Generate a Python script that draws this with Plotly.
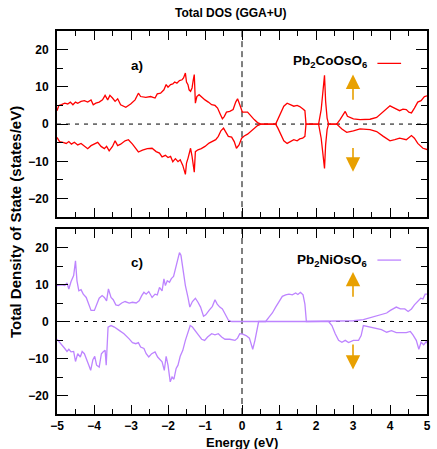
import plotly.graph_objects as go
from plotly.subplots import make_subplots

# ---------------- data ----------------
co_up_x = [-5.00,-4.95,-4.88,-4.79,-4.71,-4.64,-4.57,-4.50,-4.44,-4.35,-4.26,-4.17,-4.08,-4.02,-3.95,-3.86,-3.77,-3.70,-3.63,-3.57,-3.50,-3.43,-3.36,-3.28,-3.14,-3.01,-2.89,-2.80,-2.74,-2.60,-2.47,-2.35,-2.29,-2.20,-2.11,-2.05,-2.00,-1.93,-1.87,-1.82,-1.76,-1.69,-1.62,-1.58,-1.53,-1.50,-1.46,-1.43,-1.39,-1.35,-1.32,-1.29,-1.26,-1.22,-1.16,-1.09,-1.00,-0.91,-0.82,-0.73,-0.66,-0.59,-0.53,-0.48,-0.42,-0.33,-0.24,-0.17,-0.12,-0.06,0.01,0.15,0.24,0.33,0.42,0.51,0.91,0.97,1.05,1.13,1.22,1.31,1.40,1.49,1.56,1.64,1.70,1.73,2.07,2.14,2.18,2.23,2.26,2.30,2.34,2.56,2.65,2.72,2.79,2.85,3.01,3.19,3.46,3.64,3.77,3.91,4.00,4.08,4.17,4.26,4.35,4.44,4.51,4.58,4.66,4.75,4.84,4.93,5.02]
co_up_y = [3.6,5.0,5.2,5.6,5.4,5.9,5.2,5.9,5.6,6.1,6.3,5.9,6.5,5.2,5.6,5.9,6.5,7.7,6.5,7.7,7.0,6.1,6.8,5.2,4.5,5.4,6.5,8.3,7.4,7.2,7.4,7.0,8.1,8.3,9.2,10.6,9.9,10.6,10.8,11.3,11.0,11.7,11.9,12.4,13.7,11.3,10.6,9.2,8.8,9.7,11.7,13.3,5.6,7.4,7.9,7.2,6.5,5.9,5.2,5.0,4.3,2.7,1.4,2.0,3.2,3.4,3.9,5.9,6.8,5.2,3.2,3.2,2.1,1.2,0.4,0.0,0.0,1.2,3.0,4.8,5.6,5.2,4.8,5.0,4.7,4.1,3.6,0.0,0.0,3.9,8.8,13.1,6.1,1.6,0.0,0.0,1.2,2.3,3.4,2.1,1.4,1.2,1.3,1.8,3.0,4.3,4.9,4.5,4.1,3.6,4.0,3.9,3.2,3.0,4.3,5.9,6.3,7.4,7.6]

co_dn_x = [-5.00,-4.93,-4.84,-4.75,-4.68,-4.61,-4.53,-4.44,-4.35,-4.26,-4.17,-4.08,-3.99,-3.90,-3.81,-3.72,-3.66,-3.59,-3.50,-3.43,-3.36,-3.28,-3.16,-3.07,-2.96,-2.86,-2.80,-2.69,-2.56,-2.43,-2.32,-2.23,-2.16,-2.07,-2.00,-1.93,-1.87,-1.80,-1.73,-1.67,-1.60,-1.53,-1.50,-1.46,-1.43,-1.39,-1.35,-1.32,-1.29,-1.26,-1.19,-1.10,-1.00,-0.89,-0.80,-0.71,-0.64,-0.57,-0.50,-0.44,-0.37,-0.28,-0.21,-0.15,-0.08,-0.01,0.06,0.15,0.24,0.33,0.42,0.51,0.91,0.97,1.05,1.13,1.22,1.31,1.40,1.49,1.56,1.64,1.70,1.73,2.07,2.14,2.18,2.23,2.26,2.30,2.34,2.56,2.70,2.83,3.01,3.19,3.46,3.64,3.82,4.00,4.13,4.26,4.44,4.58,4.66,4.75,4.89,5.02]
co_dn_y = [-3.6,-4.7,-4.9,-5.2,-4.7,-5.4,-4.9,-5.6,-5.2,-6.0,-6.6,-5.8,-5.4,-4.9,-6.0,-6.6,-6.0,-7.2,-6.0,-4.5,-5.8,-5.4,-4.5,-4.2,-5.4,-6.6,-7.5,-7.0,-6.6,-6.5,-7.4,-7.8,-8.8,-8.4,-9.0,-8.7,-10.1,-9.3,-10.1,-9.6,-11.1,-13.5,-10.5,-9.2,-7.8,-6.5,-8.7,-11.0,-12.9,-7.4,-6.9,-6.6,-6.0,-5.1,-4.7,-4.2,-3.3,-1.8,-1.1,-2.2,-3.3,-3.5,-4.7,-6.5,-5.6,-3.8,-3.2,-2.7,-2.0,-1.1,-0.4,0.0,0.0,-1.1,-2.9,-4.5,-5.2,-4.7,-4.2,-4.5,-4.0,-3.8,-3.3,0.0,0.0,-3.8,-8.3,-11.9,-5.6,-1.5,0.0,0.0,-1.3,-2.2,-1.8,-1.3,-1.5,-2.0,-3.3,-4.5,-4.2,-3.8,-4.2,-3.1,-3.8,-5.2,-6.5,-6.9]

ni_up_x = [-5.00,-4.88,-4.79,-4.73,-4.68,-4.62,-4.55,-4.50,-4.46,-4.41,-4.35,-4.29,-4.21,-4.14,-4.08,-3.99,-3.93,-3.86,-3.78,-3.72,-3.66,-3.61,-3.54,-3.48,-3.41,-3.34,-3.25,-3.16,-3.05,-2.96,-2.86,-2.78,-2.71,-2.65,-2.59,-2.52,-2.43,-2.35,-2.29,-2.23,-2.16,-2.11,-2.07,-2.02,-1.96,-1.91,-1.85,-1.80,-1.75,-1.69,-1.65,-1.60,-1.53,-1.46,-1.41,-1.34,-1.26,-1.19,-1.12,-1.04,-0.98,-0.89,-0.80,-0.73,-0.67,-0.60,-0.53,-0.46,-0.37,-0.28,0.64,0.73,0.82,0.91,1.00,1.09,1.18,1.27,1.36,1.45,1.51,1.58,1.65,1.70,1.74,2.74,3.01,3.28,3.55,3.77,3.91,4.01,4.10,4.17,4.28,4.40,4.49,4.58,4.66,4.75,4.83,4.89,4.95,5.02]
ni_up_y = [9.7,9.9,9.7,10.4,8.8,10.8,12.4,16.4,11.0,8.3,8.6,7.4,6.5,4.3,3.0,3.0,4.7,6.3,7.0,6.5,5.6,8.8,6.5,5.9,4.5,4.3,5.0,5.4,5.0,5.2,5.0,5.6,7.0,7.9,7.4,8.1,6.5,7.4,7.2,9.2,8.3,11.5,9.7,11.0,10.6,11.6,12.2,14.2,15.8,18.6,17.9,14.2,9.7,6.5,3.9,5.4,6.3,5.2,3.9,1.4,1.8,3.0,4.1,5.9,4.7,3.9,3.4,2.1,0.4,0.0,0.0,1.2,2.3,3.9,5.4,6.8,7.2,7.4,7.2,7.7,7.3,7.9,7.2,4.7,0.0,0.0,0.2,0.5,1.2,1.8,2.3,3.0,3.4,3.9,3.4,3.4,2.7,3.4,4.5,5.6,6.3,6.1,7.4,7.4]

ni_dn_x = [-5.00,-4.93,-4.86,-4.79,-4.73,-4.68,-4.62,-4.55,-4.50,-4.44,-4.37,-4.32,-4.26,-4.20,-4.14,-4.09,-4.03,-3.98,-3.93,-3.86,-3.80,-3.75,-3.70,-3.67,-3.62,-3.54,-3.45,-3.32,-3.19,-3.05,-2.96,-2.87,-2.80,-2.74,-2.65,-2.59,-2.52,-2.44,-2.35,-2.28,-2.21,-2.16,-2.10,-2.05,-2.00,-1.94,-1.89,-1.84,-1.78,-1.73,-1.67,-1.60,-1.53,-1.46,-1.40,-1.34,-1.26,-1.18,-1.09,-1.01,-0.93,-0.82,-0.73,-0.64,-0.55,-0.46,-0.33,-0.19,-0.12,-0.06,0.02,0.11,0.20,0.26,0.29,0.35,0.40,0.45,2.34,2.43,2.52,2.61,2.70,2.79,2.88,3.01,3.15,3.22,3.28,3.37,3.50,3.64,3.77,3.91,4.04,4.17,4.31,4.44,4.55,4.62,4.71,4.78,4.84,4.91,4.98,5.02]
ni_dn_y = [-4.8,-5.6,-6.3,-7.3,-8.1,-7.5,-8.2,-8.1,-10.8,-8.7,-9.6,-8.1,-8.7,-10.1,-11.8,-13.2,-10.3,-9.4,-11.8,-12.3,-8.7,-8.2,-7.8,-11.8,-1.5,-1.1,-1.5,-2.4,-3.3,-4.7,-5.7,-6.0,-5.7,-6.9,-7.3,-8.7,-9.6,-8.7,-8.2,-9.6,-10.5,-10.9,-13.2,-9.4,-11.8,-16.3,-15.0,-15.6,-12.7,-11.8,-9.4,-7.8,-5.1,-2.7,-1.1,-1.5,-2.7,-3.6,-4.8,-5.1,-4.2,-3.3,-3.6,-3.3,-4.2,-4.8,-4.8,-5.1,-4.5,-3.3,-3.4,-3.8,-4.5,-6.5,-7.5,-5.1,-2.4,0.0,0.0,-1.1,-3.3,-5.1,-5.6,-5.1,-5.7,-5.1,-5.1,-3.8,-1.1,-1.3,-1.5,-2.0,-2.2,-2.9,-2.5,-3.0,-2.9,-3.0,-2.7,-3.6,-5.1,-7.5,-5.6,-6.3,-5.4,-6.1]

x_ticks = [-5, -4, -3, -2, -1, 0, 1, 2, 3, 4, 5]
y_ticks = [-20, -10, 0, 10, 20]

RED = "#ff0000"
PURPLE = "#bd84ff"
ORANGE = "#e8a000"
FONT = "Liberation Sans"

fig = make_subplots(rows=2, cols=1, shared_xaxes=False, vertical_spacing=0.031)

for xs, ys, col, row in [(co_up_x, co_up_y, RED, 1), (co_dn_x, co_dn_y, RED, 1),
                          (ni_up_x, ni_up_y, PURPLE, 2), (ni_dn_x, ni_dn_y, PURPLE, 2)]:
    fig.add_trace(go.Scatter(x=xs, y=ys, mode="lines", line=dict(color=col, width=1.3),
                             showlegend=False, hoverinfo="skip"), row=row, col=1)

tickfont = dict(family=FONT, size=12, color="black", weight="bold")
for row in (1, 2):
    fig.update_xaxes(range=[-5, 5], tickvals=x_ticks, ticks="inside", ticklen=9, tickwidth=1.2,
                     tickcolor="black", showline=True, linewidth=2, linecolor="black", mirror="ticks",
                     showgrid=False, zeroline=False, showticklabels=(row == 2), tickfont=tickfont,
                     minor=dict(ticks="inside", ticklen=5, tickwidth=1.2, tickcolor="black", dtick=0.5, showgrid=False),
                     row=row, col=1)
    fig.update_yaxes(range=[-25, 25], tickvals=y_ticks, ticks="inside", ticklen=11, tickwidth=1.2,
                     tickcolor="black", showline=True, linewidth=2, linecolor="black", mirror="ticks",
                     showgrid=False, zeroline=False, tickfont=tickfont, ticklabelstandoff=4,
                     minor=dict(ticks="inside", ticklen=6, tickwidth=1.2, tickcolor="black", dtick=5, showgrid=False),
                     row=row, col=1)

fig.update_layout(
    width=437, height=449, margin=dict(l=57, r=6, t=31, b=35),
    plot_bgcolor="white", paper_bgcolor="white", showlegend=False,
)
fig.update_yaxes(domain=[0.514, 1.0], row=1, col=1)
fig.update_yaxes(domain=[0.0, 0.483], row=2, col=1)

shapes = []
for xr, yr in [("x", "y"), ("x2", "y2")]:
    shapes.append(dict(type="line", xref=xr, yref=yr, x0=-5, x1=5, y0=0, y1=0,
                       line=dict(color="black", width=1, dash="4px,5px"), layer="below"))
    shapes.append(dict(type="line", xref=xr, yref=yr, x0=0, x1=0, y0=-25, y1=25,
                       line=dict(color="black", width=1, dash="6px,4px"), layer="below"))
# legend samples
shapes.append(dict(type="line", xref="x", yref="y", x0=3.66, x1=4.30, y0=16.3, y1=16.3,
                   line=dict(color=RED, width=1.3)))
shapes.append(dict(type="line", xref="x2", yref="y2", x0=3.66, x1=4.30, y0=16.6, y1=16.6,
                   line=dict(color=PURPLE, width=1.3)))
fig.update_layout(shapes=shapes)

ann = []
bold = dict(family=FONT, size=12, color="black", weight="bold")
leg = dict(family=FONT, size=13.5, color="black", weight="bold")
ann.append(dict(xref="paper", yref="paper", x=0.468, y=1.048, text="Total DOS (GGA+U)",
                showarrow=False, font=bold, xanchor="center", yanchor="middle"))
ann.append(dict(xref="paper", yref="paper", x=0.5, y=-0.075, text="Energy (eV)",
                showarrow=False, font=dict(family=FONT, size=13, color="black", weight="bold"),
                xanchor="center", yanchor="middle"))
ann.append(dict(xref="paper", yref="paper", x=-0.112, y=0.50, text="Total Density of State (states/eV)",
                showarrow=False, textangle=-90,
                font=dict(family=FONT, size=15, color="black", weight="bold"),
                xanchor="center", yanchor="middle"))
ann.append(dict(xref="x", yref="y", x=-2.84, y=15.8, text="a)", showarrow=False, font=leg))
ann.append(dict(xref="x2", yref="y2", x=-2.84, y=16.0, text="c)", showarrow=False, font=leg))
ann.append(dict(xref="x", yref="y", x=3.43, y=16.9, text="Pb<sub>2</sub>CoOsO<sub>6</sub>",
                showarrow=False, font=leg, xanchor="right", yanchor="middle"))
ann.append(dict(xref="x2", yref="y2", x=3.43, y=16.6, text="Pb<sub>2</sub>NiOsO<sub>6</sub>",
                showarrow=False, font=leg, xanchor="right", yanchor="middle"))
# spin arrows
for xr, yr, tip, tail in [("x", "y", 13.3, 6.1), ("x", "y", -12.8, -6.0),
                          ("x2", "y2", 13.4, 6.3), ("x2", "y2", -13.0, -5.8)]:
    ann.append(dict(xref=xr, yref=yr, x=3.0, y=tip, axref=xr, ayref=yr, ax=3.0, ay=tail,
                    text="", showarrow=True, arrowhead=2, arrowsize=1.8, arrowwidth=1.6,
                    arrowcolor=ORANGE, standoff=0, startstandoff=0))
fig.update_layout(annotations=ann)

fig.write_html("out.html")
